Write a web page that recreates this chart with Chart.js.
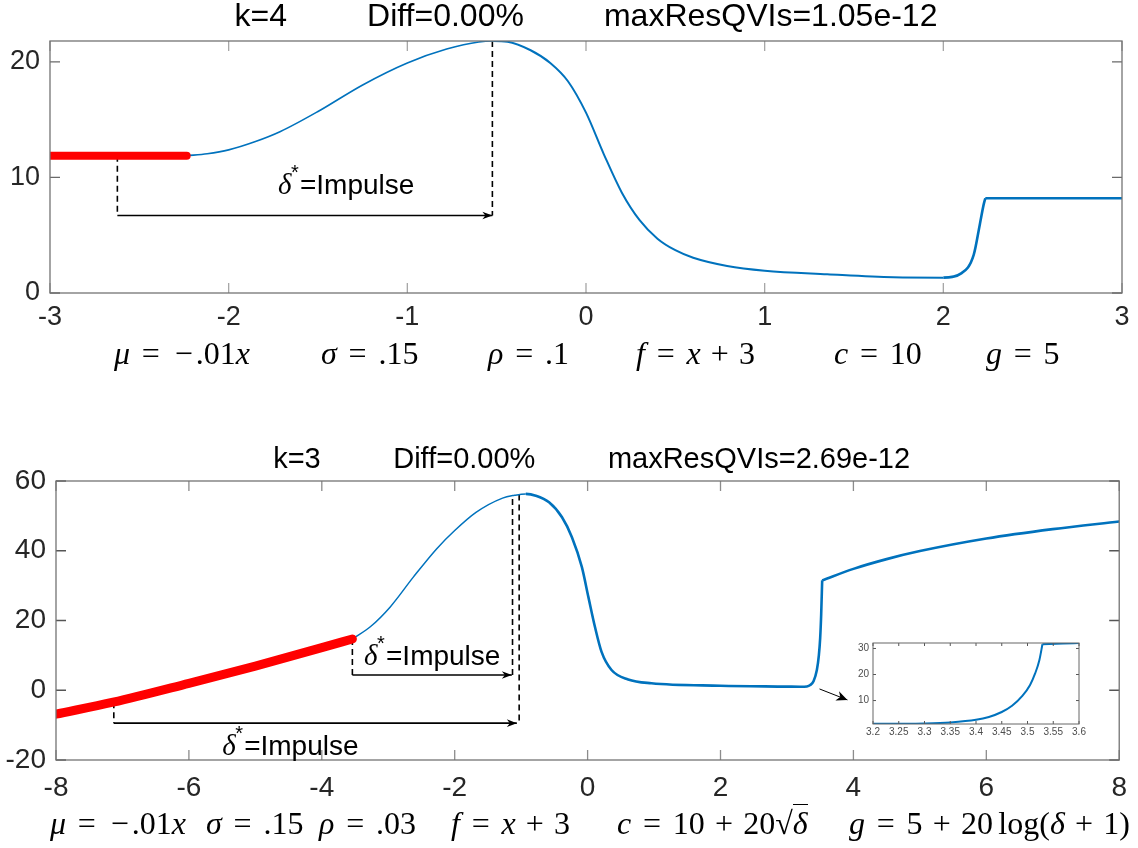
<!DOCTYPE html>
<html>
<head>
<meta charset="utf-8">
<script src="https://cdn.jsdelivr.net/npm/chart.js@4.4.1/dist/chart.umd.min.js"></script>
<style>
html,body{margin:0;padding:0;background:#fff;}
#wrap{position:relative;width:1138px;height:848px;overflow:hidden;background:#fff;}
canvas{position:absolute;}
.cap{position:absolute;font-family:"Liberation Serif","DejaVu Serif",serif;font-size:32px;line-height:32px;white-space:nowrap;color:#000;}
.cap i{font-style:italic;}
.rel{display:inline-block;width:1.3em;text-align:center;}
.bin{display:inline-block;width:1.2em;text-align:center;}
.neg{display:inline-block;width:.75em;text-align:center;}
.th{display:inline-block;width:.167em;}
.ov{border-top:1.5px solid #000;}
</style>
</head>
<body>
<div id="wrap">
<canvas id="c1" width="1138" height="340" style="left:0;top:0"></canvas>
<canvas id="c2" width="1138" height="418" style="left:0;top:430px"></canvas>
<canvas id="c3" width="260" height="112" style="left:836px;top:633px"></canvas>
</div>
<script>
// ---------------- data ----------------
// top panel (k=4)
const topTitle = 'k=4         Diff=0.00%         maxResQVIs=1.05e-12';
const topXTicks = [-3, -2, -1, 0, 1, 2, 3];
const topYTicks = [0, 10, 20];
const topRedX = [-3, -2.235];
const topRedY = [11.88, 11.88];
const topBlueX = [-2.235,-2.12,-2.0,-1.85,-1.71,-1.5,-1.25,-1.0,-0.78,-0.6,-0.52,-0.44,-0.31,-0.2,-0.1,0.0,0.1,0.2,0.3,0.4,0.5,0.6,0.79,1.0,1.35,1.72,2.0,2.1,2.17,2.205,2.225,2.235];
const topBlueY = [11.88,12.05,12.38,13.1,13.97,15.7,18.0,19.9,21.1,21.72,21.8,21.74,21.0,19.9,18.3,15.6,12.0,8.7,6.3,4.7,3.7,3.05,2.34,1.93,1.62,1.36,1.33,1.7,3.3,6.0,7.6,8.2];
const topTailX = [2.235, 3.0];
const topTailY = [8.2, 8.2];
const topDashAX = [-2.623, -2.623], topDashAY = [11.88, 6.7];
const topDashBX = [-0.524, -0.524], topDashBY = [21.8, 6.7];
const topArrowX = [-2.623, -0.524], topArrowY = [6.7, 6.7];

// bottom panel (k=3)
const botTitle = ' k=3         Diff=0.00%         maxResQVIs=2.69e-12';
const botXTicks = [-8, -6, -4, -2, 0, 2, 4, 6, 8];
const botYTicks = [-20, 0, 20, 40, 60];
const botRedX = [-8, -7.14, -6, -5, -4, -3.54];
const botRedY = [-6.86, -3.43, 2.0, 6.94, 12.2, 14.7];
const botBlueX = [-3.54,-3.27,-2.97,-2.62,-2.27,-2.0,-1.68,-1.28,-1.1,-0.93,-0.78,-0.58,-0.385,-0.236,-0.086,0.012,0.11,0.21,0.36,0.61,0.96,2.0,3.0,3.2,3.3,3.35,3.4,3.45,3.48,3.5,3.515,3.53];
const botBlueY = [14.7,18.2,23.9,32.5,40.6,45.8,51.0,55.1,55.9,56.3,55.8,53.9,49.6,43.9,35.3,26.7,18.2,11.0,5.8,3.1,2.0,1.3,1.05,1.0,1.1,1.5,2.6,5.8,10,15,21.7,31.5];
const botTailX = [3.53, 4.0, 4.5, 5.0, 6.0, 7.0, 8.0];
const botTailY = [31.5, 34.8, 37.6, 39.9, 43.5, 46.2, 48.4];
const botDashAX = [-3.54, -3.54], botDashAY = [14.7, 4.37];
const botArrowAX = [-3.54, -1.14], botArrowAY = [4.37, 4.37];
const botDashBX = [-1.13, -1.13], botDashBY = [4.37, 55.8];
const botDashCX = [-1.03, -1.03], botDashCY = [56.1, -9.43];
const botArrowBX = [-7.13, -1.065], botArrowBY = [-9.43, -9.43];
const botDashDX = [-7.13, -7.13], botDashDY = [-3.43, -9.43];
const botPointerX = [3.49, 3.91], botPointerY = [0.37, -2.77];

// inset (zoom of the jump)
const insetXTicks = [3.2, 3.25, 3.3, 3.35, 3.4, 3.45, 3.5, 3.55, 3.6];
const insetYTicks = [10, 20, 30];
const insetX = [3.2,3.25,3.3,3.35,3.4,3.425,3.45,3.47,3.49,3.505,3.515,3.523,3.529];
const insetY = [1.05,1.08,1.2,1.6,2.6,3.7,5.6,8.0,11.8,16.0,20.5,25.5,31.6];
const insetTailX = [3.529, 3.569, 3.6];
const insetTailY = [31.6, 31.9, 32.1];

// ---------------- helpers ----------------
const SANS = '"Liberation Sans", Arial, Helvetica, sans-serif';
const BLUE = '#0072BD';
const pts = (xs, ys) => xs.map((x, i) => ({x: x, y: ys[i]}));
function ds(xs, ys, o) {
  return Object.assign({data: pts(xs, ys), pointRadius: 0, pointHoverRadius: 0, fill: false, tension: 0}, o);
}
const dashStyle = {borderColor: '#000', borderWidth: 1.6, borderDash: [6, 4], order: 3};
const arrowStyle = {borderColor: '#000', borderWidth: 1.6, order: 3, isArrow: true, headL: 10, headW: 3.8};

// inward MATLAB-like ticks and box
const matlabAxes = {
  id: 'matlabAxes',
  afterDatasetsDraw(chart, args, o) {
    const {ctx, chartArea: a, scales: {x, y}} = chart;
    const L = o.len;
    ctx.save();
    ctx.lineWidth = o.tickWidth;
    ctx.strokeStyle = o.xTickColor;
    ctx.beginPath();
    x.ticks.forEach(t => {
      const px = x.getPixelForValue(t.value);
      ctx.moveTo(px, a.bottom); ctx.lineTo(px, a.bottom - L);
      ctx.moveTo(px, a.top); ctx.lineTo(px, a.top + L);
    });
    ctx.stroke();
    ctx.strokeStyle = o.yTickColor;
    ctx.beginPath();
    y.ticks.forEach(t => {
      const py = y.getPixelForValue(t.value);
      ctx.moveTo(a.left, py); ctx.lineTo(a.left + L, py);
      ctx.moveTo(a.right, py); ctx.lineTo(a.right - L, py);
    });
    ctx.stroke();
    ctx.lineWidth = o.boxWidth;
    ctx.strokeStyle = o.boxColor;
    ctx.strokeRect(a.left, a.top, a.right - a.left, a.bottom - a.top);
    ctx.restore();
  }
};

// arrow heads at the end of arrow datasets
const arrowHeads = {
  id: 'arrowHeads',
  afterDatasetsDraw(chart) {
    const ctx = chart.ctx;
    chart.data.datasets.forEach((d, i) => {
      if (!d.isArrow) return;
      const pts = chart.getDatasetMeta(i).data;
      const p1 = pts[pts.length - 2], p2 = pts[pts.length - 1];
      const dx = p2.x - p1.x, dy = p2.y - p1.y, len = Math.hypot(dx, dy);
      const ux = dx / len, uy = dy / len, nx = -uy, ny = ux;
      const L = d.headL, W = d.headW;
      ctx.save();
      ctx.fillStyle = '#000';
      ctx.beginPath();
      ctx.moveTo(p2.x, p2.y);
      ctx.lineTo(p2.x - L * ux + W * nx, p2.y - L * uy + W * ny);
      ctx.lineTo(p2.x - 0.7 * L * ux, p2.y - 0.7 * L * uy);
      ctx.lineTo(p2.x - L * ux - W * nx, p2.y - L * uy - W * ny);
      ctx.closePath();
      ctx.fill();
      ctx.restore();
    });
  }
};

// "δ*=Impulse" labels anchored in data coordinates
const impulseLabels = {
  id: 'impulseLabels',
  afterDatasetsDraw(chart, args, o) {
    const {ctx, scales: {x, y}} = chart;
    (o.items || []).forEach(it => {
      const px = x.getPixelForValue(it.x), py = y.getPixelForValue(it.y);
      const s = o.size;
      ctx.save();
      ctx.fillStyle = '#000';
      ctx.textAlign = 'left';
      ctx.textBaseline = 'alphabetic';
      ctx.font = 'italic 29px "Liberation Serif", serif';
      ctx.fillText('δ', px, py);
      ctx.font = '20px ' + SANS;
      ctx.fillText('*', px + 13, py - 15);
      ctx.font = s + 'px ' + SANS;
      ctx.fillText('=Impulse', px + 22, py);
      ctx.restore();
    });
  }
};

function axisOpts(min, max, tickVals, fontSize, pad, fitFn, color) {
  return {
    type: 'linear', min: min, max: max,
    afterBuildTicks: s => { s.ticks = tickVals.map(v => ({value: v})); },
    ticks: {
      autoSkip: false, maxRotation: 0, minRotation: 0, padding: pad,
      color: color || '#262626',
      font: {family: SANS, size: fontSize},
      callback: v => String(+(+v).toFixed(2))
    },
    grid: {display: false, drawTicks: false},
    border: {display: false},
    afterFit: fitFn
  };
}

function baseOptions() {
  return {
    responsive: false, animation: false, events: [],
    plugins: {legend: {display: false}, tooltip: {enabled: false}}
  };
}

// ---------------- top chart ----------------
const o1 = baseOptions();
o1.layout = {padding: {top: 0, right: 16, left: 0, bottom: 0}};
o1.plugins.title = {display: true, text: topTitle, fullSize: false, color: '#000',
  font: {family: SANS, size: 32, weight: 'normal', lineHeight: 1}, padding: {top: 1, bottom: 8}};
o1.plugins.matlabAxes = {len: 10, tickWidth: 1.3, xTickColor: '#a6a6a6', yTickColor: '#6a6a6a', boxWidth: 1.3, boxColor: '#737373'};
o1.plugins.impulseLabels = {size: 28, items: [{x: -1.724, y: 8.55}]};
o1.scales = {
  x: axisOpts(-3, 3, topXTicks, 27, 8, s => { s.height = 47; }),
  y: axisOpts(0, 21.8, topYTicks, 27, 10, s => { s.width = 50; })
};
const blueTop = {borderColor: BLUE, borderWidth: 2, cubicInterpolationMode: 'monotone', order: 2};
new Chart(document.getElementById('c1'), {
  type: 'line',
  data: {datasets: [
    ds(topRedX, topRedY, {borderColor: '#FF0000', borderWidth: 8, borderCapStyle: 'round', order: 1}),
    ds(topBlueX, topBlueY, Object.assign({}, blueTop, {
      segment: {borderWidth: c => c.p0.parsed.x < -0.52 ? 1.6 : (c.p0.parsed.x < 2.0 ? 2.0 : 2.6)}})),
    ds(topTailX, topTailY, Object.assign({}, blueTop, {borderWidth: 2.6})),
    ds(topDashAX, topDashAY, dashStyle),
    ds(topDashBX, topDashBY, dashStyle),
    ds(topArrowX, topArrowY, arrowStyle)
  ]},
  options: o1,
  plugins: [matlabAxes, arrowHeads, impulseLabels]
});

// ---------------- bottom chart ----------------
const o2 = baseOptions();
o2.layout = {padding: {top: 0, right: 9, left: 0, bottom: 0}};
o2.plugins.title = {display: true, text: botTitle, fullSize: false, color: '#000',
  font: {family: SANS, size: 29, weight: 'normal', lineHeight: 1}, padding: {top: 15, bottom: 7}};
o2.plugins.matlabAxes = {len: 10, tickWidth: 1.3, xTickColor: '#8c8c8c', yTickColor: '#555', boxWidth: 1.3, boxColor: '#737373'};
o2.plugins.impulseLabels = {size: 28, items: [{x: -3.365, y: 7.2}, {x: -5.50, y: -18.5}]};
o2.scales = {
  x: axisOpts(-8, 8, botXTicks, 28, 11, s => { s.height = 88; }),
  y: axisOpts(-20, 60, botYTicks, 28, 10, s => { s.width = 56; })
};
new Chart(document.getElementById('c2'), {
  type: 'line',
  data: {datasets: [
    ds(botRedX, botRedY, {borderColor: '#FF0000', borderWidth: 9, borderCapStyle: 'round', cubicInterpolationMode: 'monotone', order: 1}),
    ds(botBlueX, botBlueY, {borderColor: BLUE, borderWidth: 2, cubicInterpolationMode: 'monotone', order: 2,
      segment: {borderWidth: c => c.p0.parsed.x < -1.0 ? 1.5 : 2.6}}),
    ds(botTailX, botTailY, {borderColor: BLUE, borderWidth: 2.6, cubicInterpolationMode: 'monotone', order: 2}),
    ds(botDashAX, botDashAY, dashStyle),
    ds(botDashBX, botDashBY, dashStyle),
    ds(botDashCX, botDashCY, dashStyle),
    ds(botDashDX, botDashDY, dashStyle),
    ds(botArrowAX, botArrowAY, arrowStyle),
    ds(botArrowBX, botArrowBY, arrowStyle),
    ds(botPointerX, botPointerY, {borderColor: '#000', borderWidth: 1, order: 3, isArrow: true, headL: 11, headW: 5})
  ]},
  options: o2,
  plugins: [matlabAxes, arrowHeads, impulseLabels]
});

// ---------------- inset chart ----------------
const o3 = baseOptions();
o3.layout = {padding: {top: 10, right: 17, left: 0, bottom: 0}};
o3.plugins.matlabAxes = {len: 3, tickWidth: 1, xTickColor: '#555', yTickColor: '#555', boxWidth: 1, boxColor: '#666'};
o3.scales = {
  x: axisOpts(3.2, 3.6, insetXTicks, 10, 2, s => { s.height = 21; }, '#4d4d4d'),
  y: axisOpts(1.0, 32.1, insetYTicks, 10, 4, s => { s.width = 37; }, '#4d4d4d')
};
new Chart(document.getElementById('c3'), {
  type: 'line',
  data: {datasets: [
    ds(insetX, insetY, {borderColor: BLUE, borderWidth: 2, cubicInterpolationMode: 'monotone'}),
    ds(insetTailX, insetTailY, {borderColor: BLUE, borderWidth: 2, cubicInterpolationMode: 'monotone'})
  ]},
  options: o3,
  plugins: [matlabAxes]
});

// ---------------- math captions under the x axes ----------------
const EQ = '<span class="rel">=</span>';
const PLUS = '<span class="bin">+</span>';
const NEG = '<span class="neg">−</span>';
const topCaptions = [
  '<i>μ</i>' + EQ + NEG + '.01<i>x</i>',
  '<i>σ</i>' + EQ + '.15',
  '<i>ρ</i>' + EQ + '.1',
  '<i>f</i>' + EQ + '<i>x</i>' + PLUS + '3',
  '<i>c</i>' + EQ + '10',
  '<i>g</i>' + EQ + '5'
];
const botCaptions = [
  '<i>μ</i>' + EQ + NEG + '.01<i>x</i>',
  '<i>σ</i>' + EQ + '.15',
  '<i>ρ</i>' + EQ + '.03',
  '<i>f</i>' + EQ + '<i>x</i>' + PLUS + '3',
  '<i>c</i>' + EQ + '10' + PLUS + '20√<span class="ov"><i>δ</i></span>',
  '<i>g</i>' + EQ + '5' + PLUS + '20<span class="th"></span>log(<i>δ</i>' + PLUS + '1)'
];
const topCapLeft = [114, 321, 488, 636, 834, 986];
const botCapLeft = [50, 206, 319, 451, 617, 849];
const wrap = document.getElementById('wrap');
function placeCaps(items, lefts, top) {
  items.forEach((html, i) => {
    const d = document.createElement('div');
    d.className = 'cap';
    d.style.left = lefts[i] + 'px';
    d.style.top = top + 'px';
    d.innerHTML = html;
    wrap.appendChild(d);
  });
}
placeCaps(topCaptions, topCapLeft, 337);
placeCaps(botCaptions, botCapLeft, 807);
</script>
</body>
</html>
